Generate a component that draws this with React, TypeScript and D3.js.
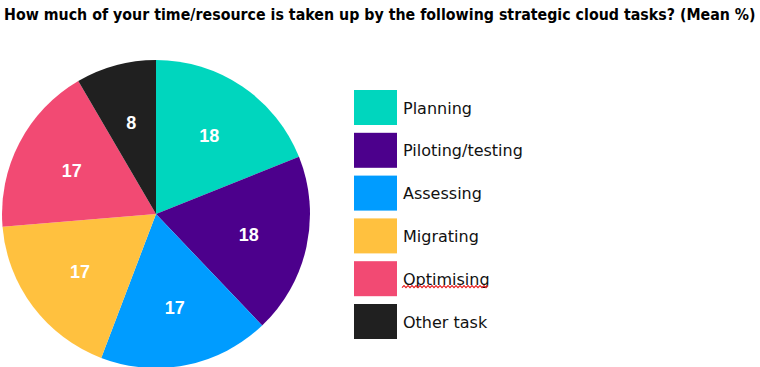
import React, { useEffect, useRef } from 'react';
import * as d3 from 'd3';

const categories = ['Planning', 'Piloting/testing', 'Assessing', 'Migrating', 'Optimising', 'Other task'];
const values = [18, 18, 17, 17, 17, 8];
const colors = ['#00d6be', '#4c008c', '#009cff', '#ffc13f', '#f24a73', '#202020'];
const title = 'How much of your time/resource is taken up by the following strategic cloud tasks? (Mean %)';

const App = () => {
    const svgRef = useRef<SVGSVGElement>(null);
    const width = 760;
    const height = 367;
    const cx = 156;
    const cy = 214;
    const radius = 154;

    useEffect(() => {
        const svg = d3.select(svgRef.current);
        svg.selectAll('*').remove();

        const t = svg.append('text')
            .attr('x', 0)
            .attr('y', 0)
            .attr('font-family', 'DejaVu Sans')
            .attr('font-weight', 'bold')
            .attr('font-size', 15)
            .attr('fill', '#000')
            .text(title);
        const len = (t.node() as SVGTextElement).getComputedTextLength();
        t.attr('transform', `translate(4,20) scale(${Math.min(1, 752 / len)},1)`);

        const data = categories.map((c, i) => ({ name: c, value: values[i], color: colors[i] }));
        const pie = d3.pie<any>().sort(null).value(d => d.value);
        const arcs = pie(data);
        const arc = d3.arc<any>().innerRadius(0).outerRadius(radius);
        const labelArc = d3.arc<any>().innerRadius(95).outerRadius(95);

        const g = svg.append('g').attr('transform', `translate(${cx},${cy})`);
        g.selectAll('path')
            .data(arcs)
            .join('path')
            .attr('d', arc)
            .attr('fill', d => d.data.color);

        g.selectAll('text')
            .data(arcs)
            .join('text')
            .attr('transform', d => `translate(${labelArc.centroid(d)})`)
            .attr('text-anchor', 'middle')
            .attr('dy', '0.36em')
            .attr('font-family', 'Liberation Sans, Arial')
            .attr('font-weight', 'bold')
            .attr('font-size', 18)
            .attr('fill', '#fff')
            .text(d => d.data.value);

        // legend
        const yLegend = d3.scaleLinear().domain([0, categories.length - 1]).range([90, 304]);
        const lg = svg.append('g');
        const items = lg.selectAll('g')
            .data(data)
            .join('g')
            .attr('transform', (d, i) => `translate(354,${yLegend(i)})`);
        items.append('rect')
            .attr('width', 43)
            .attr('height', 35)
            .attr('fill', d => d.color);
        items.append('text')
            .attr('x', 49)
            .attr('y', 23.5)
            .attr('font-family', 'DejaVu Sans')
            .attr('font-size', 16)
            .attr('fill', '#111')
            .text(d => d.name);

        // spellcheck squiggle under "Optimising"
        const i = categories.indexOf('Optimising');
        const yS = yLegend(i) + 24.5;
        const pts: [number, number][] = [];
        for (let x = 402; x <= 489; x += 2) {
            pts.push([x, yS + ((x / 2) % 2 === 0 ? 0 : 2)]);
        }
        lg.append('path')
            .attr('d', d3.line()(pts))
            .attr('fill', 'none')
            .attr('stroke', '#e82020')
            .attr('stroke-width', 1.2);
    }, []);

    return <svg ref={svgRef} width={width} height={height} style={{ position: 'absolute', left: 0, top: 0 }}></svg>;
};

export default App;
